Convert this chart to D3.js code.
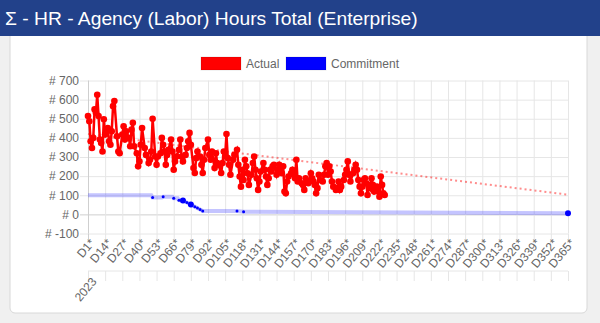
<!DOCTYPE html>
<html><head><meta charset="utf-8">
<script src="https://cdn.jsdelivr.net/npm/d3@7"></script>
<style>
html,body{margin:0;padding:0;background:#f0f0f0;}
svg{display:block;font-family:"Liberation Sans",Arial,Helvetica,sans-serif;}
</style></head>
<body>
<svg id="c" width="600" height="323"></svg>
<script>
const title = "Σ - HR - Agency (Labor) Hours Total (Enterprise)";
const seriesNames = ["Actual", "Commitment"];
const yearLabel = "2023";
const tickDays = [1,14,27,40,53,66,79,92,105,118,131,144,157,170,183,196,209,222,235,248,261,274,287,300,313,326,339,352,365];
const tickLabels = ["D1*","D14*","D27*","D40*","D53*","D66*","D79*","D92*","D105*","D118*","D131*","D144*","D157*","D170*","D183*","D196*","D209*","D222*","D235*","D248*","D261*","D274*","D287*","D300*","D313*","D326*","D339*","D352*","D365*"];
const yTicks = [-100,0,100,200,300,400,500,600,700];

const actualDays = [1,2,3,4,5,6,7,8,9,10,11,12,13,14,16,17,18,19,20,21,23,24,25,27,28,29,30,32,33,34,35,36,38,39,40,41,42,44,45,47,48,49,50,52,53,54,56,57,58,59,60,61,62,64,65,66,67,68,70,71,72,73,75,76,77,78,79,81,82,83,84,86,87,88,89,90,92,93,94,95,97,98,99,100,102,103,104,105,106,107,108,109,111,112,
114,115,116,117,118,119,120,121,122,123,125,126,127,128,129,130,131,132,134,135,136,137,138,139,140,141,142,144,145,146,148,149,150,151,152,153,155,156,157,158,159,160,161,163,164,165,166,167,168,170,171,172,173,174,175,176,177,179,180,181,182,183,184,185,186,187,189,190,191,192,193,195,196,197,198,199,200,202,203,204,205,206,207,208,209,210,211,212,213,214,215,216,217,218,220,221,222,223,224,225,226];
const actualValues = [514,487,382,347,400,549,531,625,514,391,373,329,497,417,452,382,364,435,566,593,408,329,320,417,461,391,435,400,356,443,479,356,320,251,277,364,452,347,311,268,286,329,500,303,259,303,320,400,364,329,259,311,338,391,329,233,277,303,338,391,303,277,311,347,382,426,364,242,216,294,329,303,259,216,286,347,391,311,286,329,242,320,268,259,216,268,329,303,420,294,259,207,286,311,
338,259,198,145,233,180,286,251,215,154,207,268,303,233,189,128,172,224,268,233,198,154,189,233,224,251,259,207,233,259,215,251,119,110,172,198,215,233,207,189,286,172,189,163,154,128,189,172,163,215,189,172,154,110,137,207,180,172,207,251,268,207,251,224,172,145,128,137,172,128,145,180,207,233,277,207,172,215,233,259,233,180,145,110,145,180,189,163,101,154,137,189,154,119,145,119,92,198,154,110,101];

const trendDays = [1,365];
const trendValues = [420,103];

const commitDays = [1,49,50,57,58,65,66,69,70,73,76,79,82,84,86,88,114,119,365];
const commitValues = [100,100,88,88,92,92,84,84,74,72,62,52,40,33,25,18,17,14,6];
const commitMarkerDays = [50,58,66,70,73,76,79,82,84,86,88,114,119,365];
const commitBigMarkers = [73,79,365];

const svg = d3.select("#c");
const W = 600, H = 323;

// card
svg.append("rect").attr("x",10).attr("y",30).attr("width",577).attr("height",283).attr("rx",5)
  .attr("fill","#fff").attr("stroke","#d8d8d8");
// header
svg.append("rect").attr("x",0).attr("y",0).attr("width",W).attr("height",36).attr("fill","#22418a");
const tt = svg.append("text").attr("x",5).attr("y",25).attr("fill","#fff").attr("font-size",18).text(title);
const tl = tt.node().getComputedTextLength();
tt.attr("font-size", 18*413/tl);

const x = d3.scaleLinear().domain([1,365]).range([88,568]);
const y = d3.scaleLinear().domain([-100,700]).range([233.5,80.5]);

const grid = "#e6e6e6", txt = "#666";

// horizontal grid + y axis
const ya = svg.append("g").attr("transform","translate(88,0)")
  .call(d3.axisLeft(y).tickValues(yTicks).tickSize(8).tickFormat(d=>"# "+d).tickPadding(1));
ya.select(".domain").remove();
ya.selectAll("line").attr("stroke",grid).attr("x2",-8).clone().attr("x2",480).attr("x1",0);
ya.selectAll(".tick").filter(d=>d===0).selectAll("line").attr("stroke","#cfcfcf");
ya.selectAll("text").attr("fill",txt).attr("font-size",12).attr("font-family","Liberation Sans, Arial, sans-serif");

// vertical grid + x axis
const xa = svg.append("g").attr("transform","translate(0,233.5)")
  .call(d3.axisBottom(x).tickValues(tickDays).tickSize(6).tickFormat((d,i)=>tickLabels[i]));
xa.select(".domain").remove();
xa.selectAll("line").attr("stroke",grid).clone().attr("y1",0).attr("y2",-153);
xa.selectAll(".tick").filter(d=>d===1).selectAll("line").attr("stroke","#cfcfcf");
xa.selectAll("text").attr("fill",txt).attr("font-size",12).attr("font-family","Liberation Sans, Arial, sans-serif")
  .attr("text-anchor","end").attr("transform","translate(0,4) rotate(-50)").attr("dy","0.75em").attr("y",0);

// second (year) axis
const xa2 = svg.append("g").attr("transform","translate(0,271)")
  .call(d3.axisBottom(x).tickValues(tickDays).tickSize(10).tickFormat((d,i)=> i===0 ? yearLabel : ""));
xa2.select(".domain").attr("stroke",grid).attr("d","M88,0H568");
xa2.selectAll("line").attr("stroke",grid);
xa2.selectAll("text").attr("fill",txt).attr("font-size",12).attr("font-family","Liberation Sans, Arial, sans-serif")
  .attr("text-anchor","end").attr("transform","translate(2,5) rotate(-50)").attr("dy","0.75em").attr("y",0);

// trend
svg.append("path").datum(trendDays.map((d,i)=>[d,trendValues[i]]))
  .attr("d",d3.line().x(d=>x(d[0])).y(d=>y(d[1])))
  .attr("fill","none").attr("stroke","rgba(255,0,0,0.45)").attr("stroke-width",2).attr("stroke-dasharray","2,3");

// commitment
const cdata = commitDays.map((d,i)=>[d,commitValues[i]]);
svg.append("path").datum(cdata).attr("d",d3.line().x(d=>x(d[0])).y(d=>y(d[1])))
  .attr("fill","none").attr("stroke","rgba(60,60,255,0.3)").attr("stroke-width",4);
svg.append("g").selectAll("circle").data(cdata.filter(d=>commitMarkerDays.includes(d[0]))).join("circle")
  .attr("cx",d=>x(d[0])).attr("cy",d=>y(d[1]))
  .attr("r",d=>commitBigMarkers.includes(d[0])?3:1.5).attr("fill","#0000ff");

// actual
const adata = actualDays.map((d,i)=>[d,actualValues[i]]);
svg.append("path").datum(adata).attr("d",d3.line().x(d=>x(d[0])).y(d=>y(d[1])))
  .attr("fill","none").attr("stroke","#ff0000").attr("stroke-width",2.5);
svg.append("g").selectAll("circle").data(adata).join("circle")
  .attr("cx",d=>x(d[0])).attr("cy",d=>y(d[1])).attr("r",3.3).attr("fill","#ff0000");

// legend
const lg = svg.append("g").attr("font-size",12);
const items = [{n:seriesNames[0],c:"#ff0000",x:201},{n:seriesNames[1],c:"#0000ff",x:286}];
items.forEach(it=>{
  lg.append("rect").attr("x",it.x).attr("y",57).attr("width",40).attr("height",13).attr("fill",it.c).attr("stroke","rgba(0,0,0,0.1)");
  lg.append("text").attr("x",it.x+45).attr("y",68).attr("fill",txt).text(it.n);
});
</script>
</body></html>
